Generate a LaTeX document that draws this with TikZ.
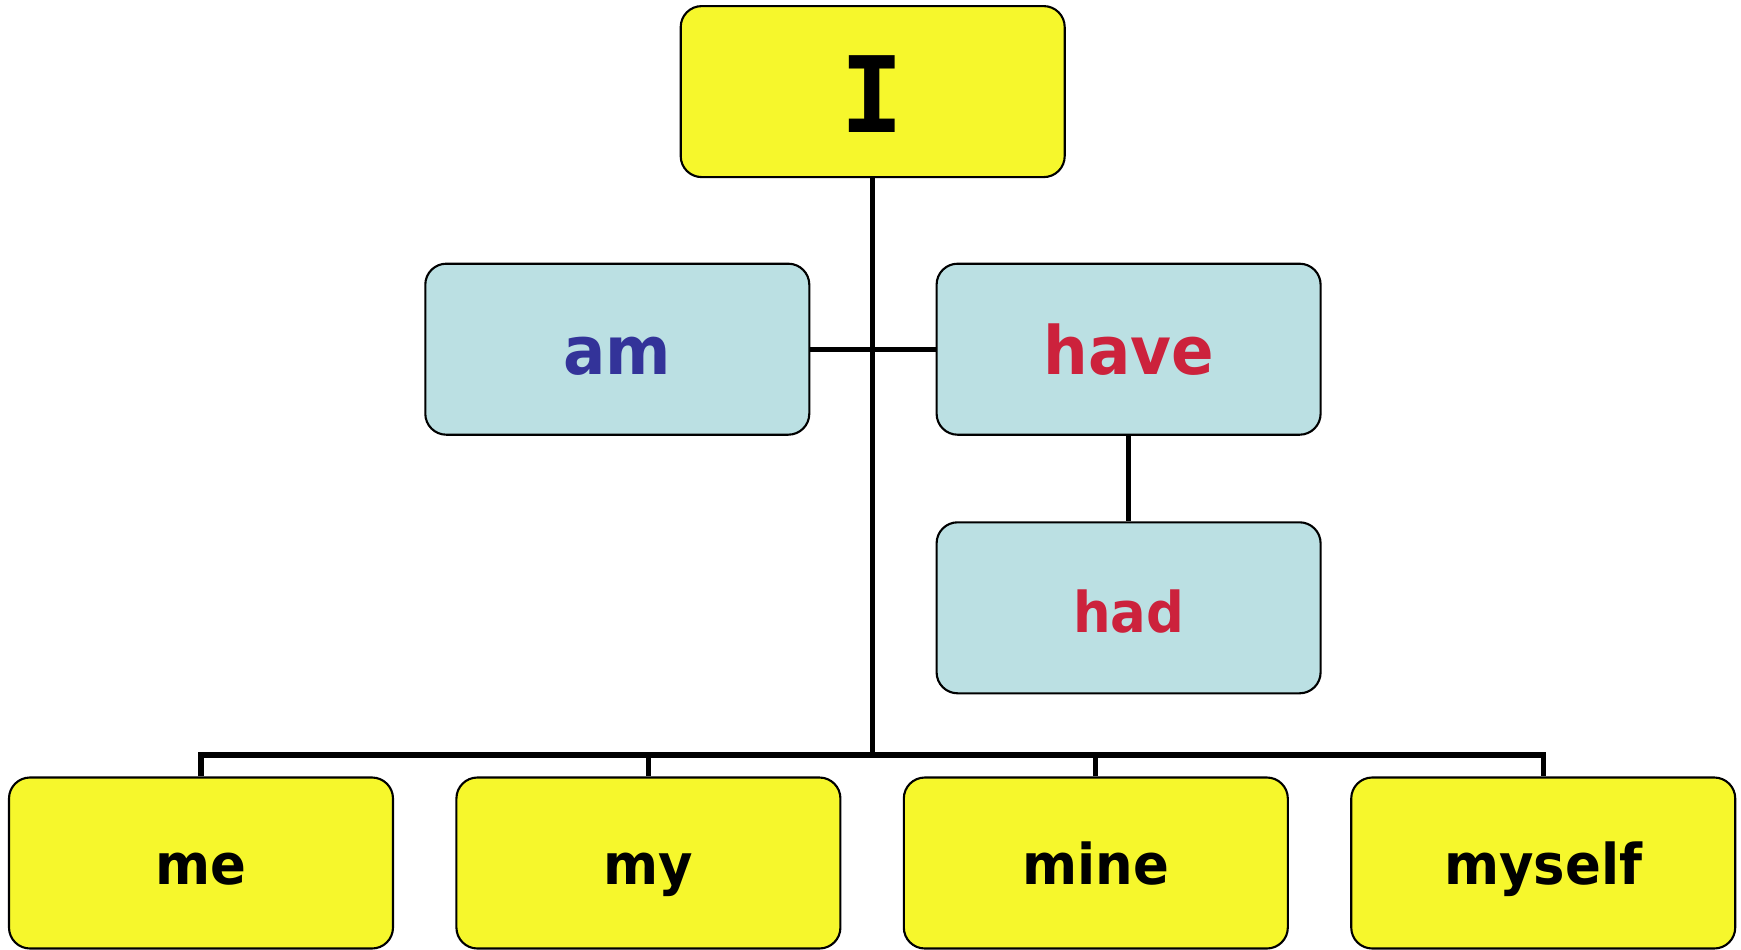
\documentclass[tikz,border=0pt]{standalone}
\usepackage{fontspec}
\setmainfont[FakeStretch=0.94]{DejaVu Sans}
\newfontfamily\monofont{DejaVu Sans Mono}
\usetikzlibrary{positioning}
\definecolor{boxyellow}{RGB}{246,247,44}
\definecolor{boxblue}{RGB}{187,224,227}
\definecolor{wordblue}{RGB}{51,51,153}
\definecolor{wordred}{RGB}{204,34,60}
\tikzset
{
    wordbox/.style = {draw=black, line width=0.6pt, rounded corners=0.21cm, minimum width=3.84cm, minimum height=1.71cm, align=center, text depth=0pt},
    headbox/.style = {wordbox, fill=boxyellow, font=\fontsize{16}{18}\selectfont\bfseries, text height=12.2pt},
    verbbox/.style = {wordbox, fill=boxblue, font=\fontsize{19}{22}\selectfont\bfseries, text height=14.2pt},
    link/.style    = {line width=1.5pt}
}
\begin{document}
\begin{tikzpicture}
    \useasboundingbox (0,0) rectangle (17.41,-9.5);
    % top word
    \node [headbox, font=\fontsize{30}{34}\selectfont\monofont\bfseries, text height=23.4pt] (i) at (8.727,-0.916) {I};
    % verbs
    \node [verbbox, text=wordblue] (am) at (6.173,-3.492) {am};
    \node [verbbox, text=wordred] (have) at (11.286,-3.492) {have};
    \node [verbbox, text=wordred, font=\fontsize{16}{18}\selectfont\bfseries] (had) [below=0.855cm of have] {had};
    % pronouns
    \node [headbox] (me) at (2.01,-8.63) {me};
    \node [headbox] (my) [right=0.613cm of me] {my};
    \node [headbox] (mine) [right=0.613cm of my] {mine};
    \node [headbox] (myself) [right=0.613cm of mine] {myself};
    \coordinate (bus) at (8.727,-7.55);

    \draw [link] (i.south) -- (bus);
    \draw [link] (am.east) -- (have.west);
    \draw [link] (have.south) -- (had.north);
    \draw [link] (me.north) |- (bus) -| (myself.north);
    \foreach \leaf in {my,mine}
        \draw [link] (\leaf.north) -- (\leaf.north |- bus);
\end{tikzpicture}
\end{document}
